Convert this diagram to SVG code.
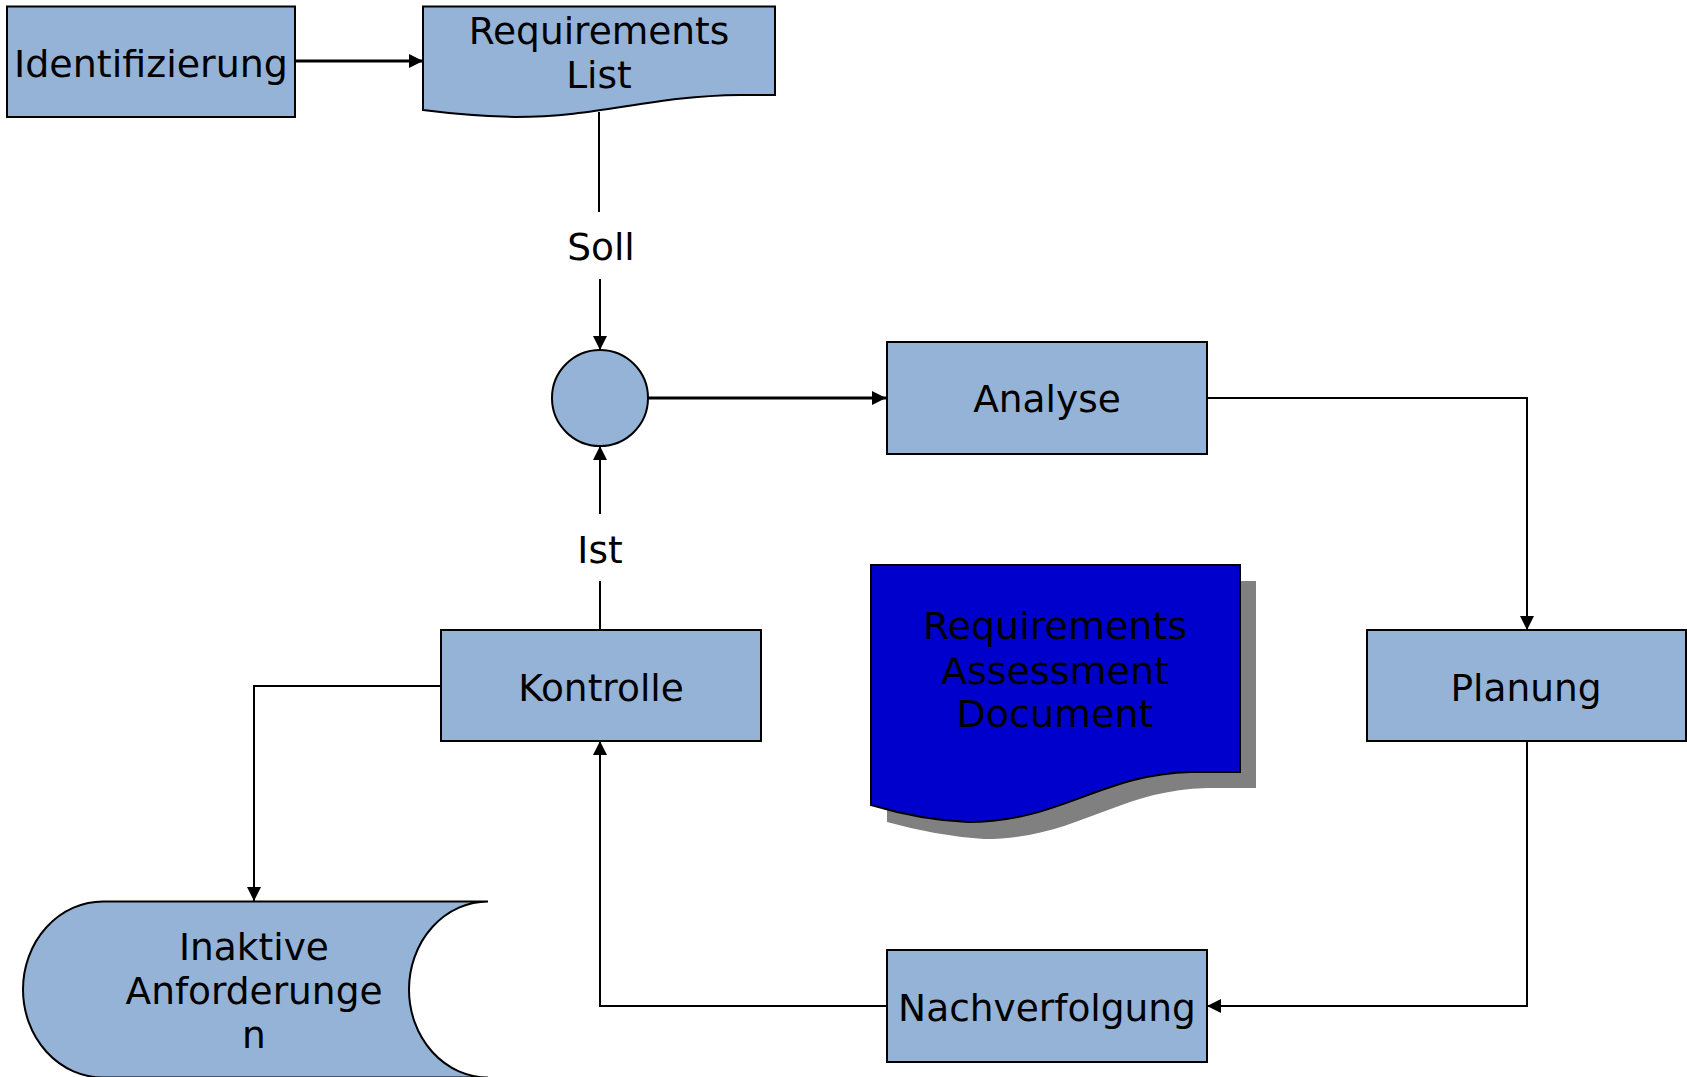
<svg xmlns="http://www.w3.org/2000/svg" width="1687" height="1077" viewBox="0 0 1687 1077">
<style>
.node{fill:#95b3d7;stroke:#000;stroke-width:2}
.lbl{font-family:"DejaVu Sans","Verdana",sans-serif;font-size:37.5px;fill:#000;text-anchor:middle}
.conn{fill:none;stroke:#000;stroke-width:2}
.thick{stroke-width:3}
</style>
<defs>
<marker id="arr" viewBox="0 0 10 10" refX="10" refY="5" markerWidth="14" markerHeight="14" markerUnits="userSpaceOnUse" orient="auto">
<path d="M0,0 L10,5 L0,10 Z" fill="#000"/>
</marker>
</defs>
<rect width="1687" height="1077" fill="#fff"/>

<g id="connectors">
<line class="conn thick" x1="295" y1="61" x2="423" y2="61" marker-end="url(#arr)"/>
<line class="conn" x1="599" y1="112" x2="599" y2="212"/>
<line class="conn" x1="600" y1="279" x2="600" y2="350" marker-end="url(#arr)"/>
<line class="conn thick" x1="648" y1="398" x2="886" y2="398" marker-end="url(#arr)"/>
<polyline class="conn" points="1207,398 1527,398 1527,630" marker-end="url(#arr)"/>
<polyline class="conn" points="1527,741 1527,1006 1207,1006" marker-end="url(#arr)"/>
<polyline class="conn" points="886,1006 600,1006 600,741" marker-end="url(#arr)"/>
<line class="conn" x1="600" y1="630" x2="600" y2="581"/>
<line class="conn" x1="600" y1="514" x2="600" y2="446" marker-end="url(#arr)"/>
<polyline class="conn" points="441,686 254,686 254,901" marker-end="url(#arr)"/>
<text class="lbl" x="601" y="260">Soll</text>
<text class="lbl" x="600" y="563">Ist</text>
</g>

<g id="identifizierung">
<rect class="node" x="7" y="6.5" width="288" height="110.5"/>
<text class="lbl" x="151" y="77" style="font-size:38px">Identifizierung</text>
</g>

<g id="requirements-list">
<path class="node" d="M423,6.5 L775,6.5 L775,95 L740,95 C650,96 600,117 515,117 Q470,116 423,110 Z"/>
<text class="lbl" x="599" y="44">Requirements</text>
<text class="lbl" x="599" y="88">List</text>
</g>

<g id="vergleich">
<circle class="node" cx="600" cy="398" r="48"/>
</g>

<g id="analyse">
<rect class="node" x="887" y="342" width="320" height="112"/>
<text class="lbl" x="1047" y="412">Analyse</text>
</g>

<g id="planung">
<rect class="node" x="1367" y="630" width="319" height="111"/>
<text class="lbl" x="1526" y="701">Planung</text>
</g>

<g id="nachverfolgung">
<rect class="node" x="887" y="950" width="320" height="112"/>
<text class="lbl" x="1047" y="1021">Nachverfolgung</text>
</g>

<g id="kontrolle">
<rect class="node" x="441" y="630" width="320" height="111"/>
<text class="lbl" x="601" y="701">Kontrolle</text>
</g>

<g id="inaktive-anforderungen">
<path class="node" d="M103,901.5 L488,901.5 A79,88 0 0 0 488,1077.5 L103,1077.5 A80,88 0 0 1 103,901.5 Z"/>
<text class="lbl" x="254" y="960">Inaktive</text>
<text class="lbl" x="254" y="1004">Anforderunge</text>
<text class="lbl" x="254" y="1048">n</text>
</g>

<g id="requirements-assessment-document">
<path d="M887,581 L1256,581 L1256,788 L1207,788 C1117,790 1077,839 984,839 Q937,836 887,822 Z" fill="#808080"/>
<path d="M871,565 L1240,565 L1240,772 L1191,772 C1101,774 1061,822 968,822 Q921,820 871,805 Z" fill="#0000cc" stroke="#000" stroke-width="2"/>
<text class="lbl" x="1055" y="639" style="font-size:38px">Requirements</text>
<text class="lbl" x="1055" y="684" style="font-size:38px">Assessment</text>
<text class="lbl" x="1055" y="727" style="font-size:38px">Document</text>
</g>
</svg>
